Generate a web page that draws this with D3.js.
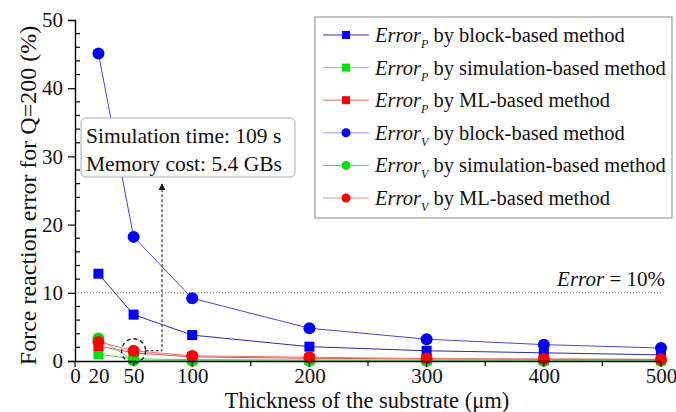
<!DOCTYPE html>
<html>
<head>
<meta charset="utf-8">
<script src="https://cdn.jsdelivr.net/npm/d3@7/dist/d3.min.js"></script>
<style>
  html, body { margin: 0; padding: 0; background: #fff; }
  svg { display: block; font-family: "Liberation Serif", "Times New Roman", serif; }
</style>
</head>
<body>
<svg id="chart" width="676" height="412"></svg>
<script>
// Substrate thicknesses (µm) and force reaction errors (%) for Q=200
const thickness = [20, 50, 100, 200, 300, 400, 500];
const errPBlock = [12.8, 6.8, 3.8, 2.1, 1.5, 1.2, 0.9];
const errPSim   = [1.0, 0.3, 0.2, 0.15, 0.1, 0.1, 0.1];
const errPML    = [2.2, 1.2, 0.6, 0.4, 0.3, 0.25, 0.2];
const errVBlock = [45.1, 18.2, 9.2, 4.8, 3.2, 2.4, 1.9];
const errVSim   = [3.3, 0.1, 0.05, 0.05, 0.05, 0.05, 0.05];
const errVML    = [2.8, 1.5, 0.75, 0.55, 0.35, 0.3, 0.25];

const xTickLabels = [0, 20, 50, 100, 200, 300, 400, 500];
const xMajorTicks = [0, 100, 200, 300, 400, 500];
const xMinorTicks = [50, 150, 250, 350, 450];
const yMajorTicks = [0, 10, 20, 30, 40, 50];
const yMinorTicks = d3.range(0, 51, 2).filter(v => v % 10 !== 0);
const threshold = 10;

const seriesNames = ["P", "P", "P", "V", "V", "V"];
const methodNames = ["block-based method", "simulation-based method", "ML-based method",
                     "block-based method", "simulation-based method", "ML-based method"];

const series = [
  { values: errPBlock, marker: "square", fill: "#0000ff", line: "#2b2ba8" },
  { values: errPSim,   marker: "square", fill: "#00e000", line: "#55cc55" },
  { values: errPML,    marker: "square", fill: "#ff0000", line: "#e05050" },
  { values: errVBlock, marker: "circle", fill: "#0000ff", line: "#4848c8" },
  { values: errVSim,   marker: "circle", fill: "#00e000", line: "#66dd66" },
  { values: errVML,    marker: "circle", fill: "#ff0000", line: "#ee7070" }
];
const legendLine = ["#3030b0", "#66e066", "#e87070", "#9a9af0", "#33dd33", "#f09090"];

const svg = d3.select("#chart");
const x = d3.scaleLinear().domain([0, 500]).range([75, 661]);
const y = d3.scaleLinear().domain([0, 50]).range([361, 20]);

// threshold line
svg.append("line")
  .attr("x1", x(0)).attr("x2", x(500))
  .attr("y1", y(threshold)).attr("y2", y(threshold))
  .attr("stroke", "#333").attr("stroke-width", 0.8)
  .attr("stroke-dasharray", "1,2");
const thr = svg.append("text")
  .attr("x", 665).attr("y", y(threshold) - 7)
  .attr("text-anchor", "end").attr("font-size", 21).attr("fill", "#111");
thr.append("tspan").attr("font-style", "italic").text("Error");
thr.append("tspan").text(" = 10%");

// series lines and markers
const lineGen = d3.line().x(d => x(d[0])).y(d => y(d[1]));
series.forEach(s => {
  const pts = thickness.map((t, i) => [t, s.values[i]]);
  svg.append("path").attr("d", lineGen(pts))
    .attr("fill", "none").attr("stroke", s.line).attr("stroke-width", 1);
});
series.forEach(s => {
  const pts = thickness.map((t, i) => [t, s.values[i]]);
  if (s.marker === "square") {
    svg.selectAll(null).data(pts).enter().append("rect")
      .attr("x", d => x(d[0]) - 5).attr("y", d => y(d[1]) - 5)
      .attr("width", 10).attr("height", 10).attr("fill", s.fill);
  } else {
    svg.selectAll(null).data(pts).enter().append("circle")
      .attr("cx", d => x(d[0])).attr("cy", d => y(d[1]))
      .attr("r", 6).attr("fill", s.fill);
  }
});

// axes
const xAxis = svg.append("g").attr("transform", `translate(0,${y(0)})`)
  .call(d3.axisBottom(x).tickValues(xTickLabels).tickSize(0).tickPadding(7).tickFormat(d3.format("d")));
xAxis.select(".domain").attr("stroke", "#000").attr("stroke-width", 1.6);
xAxis.selectAll("text").attr("font-size", 21).attr("fill", "#111")
  .attr("font-family", "Liberation Serif");
svg.append("g").selectAll("line").data(xMajorTicks).enter().append("line")
  .attr("x1", d => x(d)).attr("x2", d => x(d))
  .attr("y1", y(0)).attr("y2", y(0) + 6).attr("stroke", "#000").attr("stroke-width", 1.2);
svg.append("g").selectAll("line").data(xMinorTicks).enter().append("line")
  .attr("x1", d => x(d)).attr("x2", d => x(d))
  .attr("y1", y(0)).attr("y2", y(0) + 5).attr("stroke", "#000").attr("stroke-width", 1.2);

const yAxis = svg.append("g").attr("transform", `translate(${x(0)},0)`)
  .call(d3.axisLeft(y).tickValues(yMajorTicks).tickSize(7).tickPadding(5));
yAxis.select(".domain").attr("stroke", "#000").attr("stroke-width", 1.4);
yAxis.selectAll(".tick line").attr("stroke", "#000").attr("stroke-width", 1.2);
yAxis.selectAll("text").attr("font-size", 21).attr("fill", "#111")
  .attr("font-family", "Liberation Serif");
svg.append("g").selectAll("line").data(yMinorTicks).enter().append("line")
  .attr("x1", x(0)).attr("x2", x(0) + 5)
  .attr("y1", d => y(d)).attr("y2", d => y(d)).attr("stroke", "#000").attr("stroke-width", 1.2);

// axis titles
svg.append("text").attr("x", 367).attr("y", 408)
  .attr("text-anchor", "middle").attr("font-size", 22.5).attr("fill", "#111")
  .text("Thickness of the substrate (\u03bcm)");
svg.append("text").attr("transform", `translate(36,${(y(0) + y(50)) / 2 + 5}) rotate(-90)`)
  .attr("text-anchor", "middle").attr("font-size", 24).attr("fill", "#111")
  .text("Force reaction error for Q=200 (%)");

// highlighted point with arrow to the note
const hx = x(50), hy = y(errVML[1]);
svg.append("circle").attr("cx", hx).attr("cy", hy).attr("r", 12)
  .attr("fill", "none").attr("stroke", "#111").attr("stroke-width", 1.3)
  .attr("stroke-dasharray", "4,3");
svg.append("defs").append("marker").attr("id", "arrow")
  .attr("viewBox", "0 0 10 10").attr("refX", 9).attr("refY", 5)
  .attr("markerWidth", 7).attr("markerHeight", 7).attr("orient", "auto")
  .append("path").attr("d", "M0,0 L10,5 L0,10 z").attr("fill", "#111");
svg.append("path")
  .attr("d", `M${hx + 12},${hy} H162 V184`)
  .attr("fill", "none").attr("stroke", "#111").attr("stroke-width", 1)
  .attr("stroke-dasharray", "3,2").attr("marker-end", "url(#arrow)");

// note box
svg.append("rect").attr("x", 81).attr("y", 118).attr("width", 214).attr("height", 59)
  .attr("rx", 5).attr("fill", "#fff").attr("stroke", "#aaa").attr("stroke-width", 1);
svg.append("text").attr("x", 86).attr("y", 143).attr("font-size", 21.5).attr("fill", "#111")
  .text("Simulation time: 109 s");
svg.append("text").attr("x", 86).attr("y", 171).attr("font-size", 21.5).attr("fill", "#111")
  .text("Memory cost: 5.4 GBs");

// legend
const lg = svg.append("g");
lg.append("rect").attr("x", 315).attr("y", 17).attr("width", 357).attr("height", 201)
  .attr("fill", "#fff").attr("stroke", "#888").attr("stroke-width", 1);
series.forEach((s, i) => {
  const cy = 35 + i * 32.6;
  lg.append("line").attr("x1", 323).attr("x2", 369).attr("y1", cy).attr("y2", cy)
    .attr("stroke", legendLine[i]).attr("stroke-width", 1);
  if (s.marker === "square") {
    lg.append("rect").attr("x", 342).attr("y", cy - 4).attr("width", 8).attr("height", 8).attr("fill", s.fill);
  } else {
    lg.append("circle").attr("cx", 346).attr("cy", cy).attr("r", 4.5).attr("fill", s.fill);
  }
  const t = lg.append("text").attr("x", 375).attr("y", cy + 7).attr("font-size", 20.5).attr("fill", "#111");
  t.append("tspan").attr("font-style", "italic").text("Error");
  t.append("tspan").attr("font-style", "italic").attr("font-size", 12).attr("dy", 6).text(seriesNames[i]);
  t.append("tspan").attr("dy", -6).text(" by " + methodNames[i]);
});
</script>
</body>
</html>
